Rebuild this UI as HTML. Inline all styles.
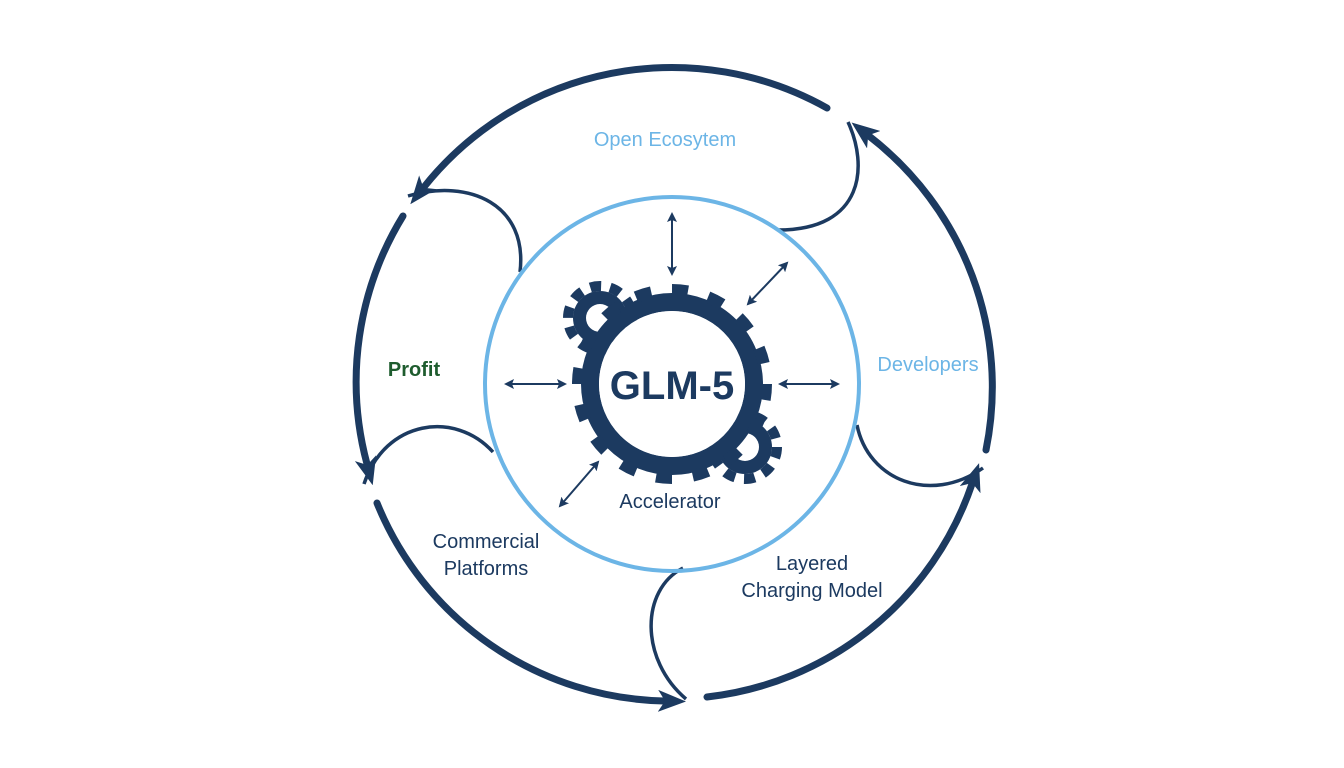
<!DOCTYPE html>
<html><head><meta charset="utf-8"><style>
body{margin:0;background:#fff;}
svg{display:block}
text{font-family:"Liberation Sans","DejaVu Sans",sans-serif;}
</style></head><body>
<svg width="1344" height="768" viewBox="0 0 1344 768">
<defs>
<marker id="ah" viewBox="0 0 28 22" refX="6" refY="11" markerWidth="28" markerHeight="22" markerUnits="userSpaceOnUse" orient="auto">
<path d="M0,0 L28,11 L0,22 L7,11 z" fill="#1c3a60"/>
</marker>
<marker id="sa" viewBox="0 0 10 10" refX="8" refY="5" markerWidth="10" markerHeight="10" markerUnits="userSpaceOnUse" orient="auto-start-reverse">
<path d="M0,0 L10,5 L0,10 L2,5 z" fill="#1c3a60"/>
</marker>
</defs>
<g fill="none" stroke="#1c3a60" stroke-width="7" stroke-linecap="round">
<path d="M827,108 A317,317 0 0 0 424,187" marker-end="url(#ah)"/>
<path d="M403,216 A317,317 0 0 0 367,464" marker-end="url(#ah)"/>
<path d="M377,503 A317,317 0 0 0 664,701" marker-end="url(#ah)"/>
<path d="M707,697 A317,317 0 0 0 972,484" marker-end="url(#ah)"/>
<path d="M986,450 A317,317 0 0 0 869,136" marker-end="url(#ah)"/>
</g>
<g fill="none" stroke="#1c3a60" stroke-width="3.5">
<path d="M408,196 C470,178 528,205 520,272"/>
<path d="M364,484 C385,420 455,410 493,452"/>
<path d="M686,699 C640,660 640,590 683,568"/>
<path d="M857,425 C868,480 930,505 983,468"/>
<path d="M848,122 C868,165 865,230 778,230"/>
</g>
<circle cx="672" cy="384" r="187" fill="none" stroke="#6cb5e6" stroke-width="4"/>
<g fill="#1c3a60">
<circle cx="600" cy="318" r="27"/>
<circle cx="600" cy="318" r="32" fill="none" stroke="#1c3a60" stroke-width="10" stroke-dasharray="11 9.1"/>
<circle cx="745" cy="447" r="27"/>
<circle cx="745" cy="447" r="32" fill="none" stroke="#1c3a60" stroke-width="10" stroke-dasharray="11 9.1"/>
</g>
<circle cx="600" cy="318" r="14" fill="#fff"/>
<circle cx="745" cy="447" r="14" fill="#fff"/>
<circle cx="672" cy="384" r="82" fill="none" stroke="#1c3a60" stroke-width="18"/>
<circle cx="672" cy="384" r="94" fill="none" stroke="#1c3a60" stroke-width="12" stroke-dasharray="16 20.9"/>
<circle cx="672" cy="384" r="73" fill="#fff"/>
<text x="672" y="399" text-anchor="middle" font-size="40" font-weight="bold" fill="#1c3a60">GLM-5</text>
<g stroke="#1c3a60" stroke-width="2" marker-start="url(#sa)" marker-end="url(#sa)">
<line x1="672" y1="214" x2="672" y2="274"/>
<line x1="748" y1="304" x2="787" y2="263"/>
<line x1="506" y1="384" x2="565" y2="384"/>
<line x1="780" y1="384" x2="838" y2="384"/>
<line x1="560" y1="506" x2="598" y2="462"/>
</g>
<g font-size="20">
<text x="665" y="146" text-anchor="middle" fill="#6cb5e6">Open Ecosytem</text>
<text x="928" y="371" text-anchor="middle" fill="#6cb5e6">Developers</text>
<text x="414" y="376" text-anchor="middle" fill="#1e5c2e" font-weight="bold">Profit</text>
<text x="486" y="548" text-anchor="middle" fill="#1c3a60">Commercial</text>
<text x="486" y="575" text-anchor="middle" fill="#1c3a60">Platforms</text>
<text x="812" y="570" text-anchor="middle" fill="#1c3a60">Layered</text>
<text x="812" y="597" text-anchor="middle" fill="#1c3a60">Charging Model</text>
<text x="670" y="508" text-anchor="middle" fill="#1c3a60">Accelerator</text>
</g>
</svg>
</body></html>
